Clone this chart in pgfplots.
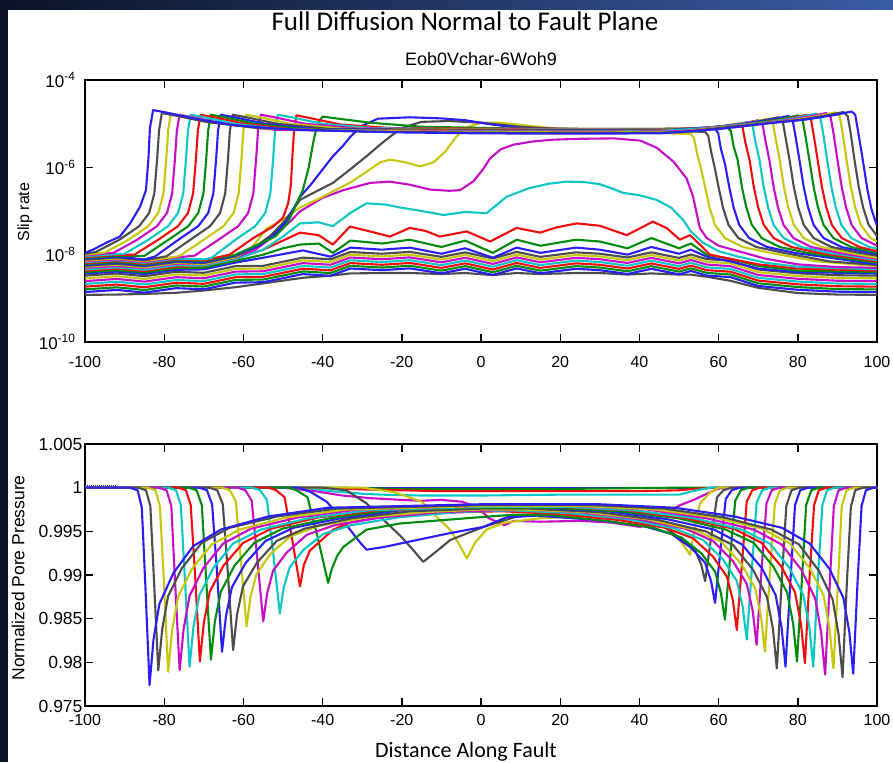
\documentclass[border=0pt]{standalone}
\usepackage{fontspec}
\setmainfont{Liberation Sans}
\newfontfamily\carlito{Carlito}
\usepackage{pgfplots}
\usepackage{pgfplotstable}
\pgfplotsset{compat=1.18}
\definecolor{mb}{rgb}{0.16,0.12,0.95}
\definecolor{mg}{rgb}{0,0.55,0.05}
\definecolor{mr}{rgb}{0.95,0.05,0.05}
\definecolor{mc}{rgb}{0.05,0.78,0.78}
\definecolor{mm}{rgb}{0.78,0.05,0.78}
\definecolor{my}{rgb}{0.78,0.78,0.05}
\definecolor{mk}{rgb}{0.3,0.3,0.3}
\definecolor{navy}{HTML}{0A1226}
\definecolor{topblue}{HTML}{3A5CA6}
\pgfplotstableread{
x k0 k1 k2 k3 k4 k5 k6 k7
-100 1.2e-9 1.39e-9 1.6e-9 1.85e-9 2.14e-9 2.48e-9 2.87e-9 3.31e-9
-92 1.22e-9 1.56e-9 1.79e-9 2.07e-9 2.4e-9 2.78e-9 3.21e-9 3.71e-9
-85 1.26e-9 1.35e-9 1.55e-9 1.79e-9 2.08e-9 2.41e-9 2.78e-9 3.21e-9
-77 1.34e-9 1.71e-9 1.97e-9 2.28e-9 2.63e-9 3.05e-9 3.53e-9 4.07e-9
-70 1.51e-9 1.61e-9 1.86e-9 2.15e-9 2.48e-9 2.88e-9 3.33e-9 3.84e-9
-62 1.8e-9 2.29e-9 2.64e-9 3.05e-9 3.53e-9 4.09e-9 4.74e-9 5.46e-9
-55 2.2e-9 2.34e-9 2.69e-9 3.11e-9 3.6e-9 4.17e-9 4.82e-9 5.56e-9
-45 2.95e-9 3.59e-9 4.13e-9 4.77e-9 5.52e-9 6.4e-9 7.4e-9 8.54e-9
-38 3.3e-9 3.29e-9 3.79e-9 4.38e-9 5.07e-9 5.88e-9 6.8e-9 7.84e-9
-33 3.72e-9 4.82e-9 5.55e-9 6.42e-9 7.43e-9 8.61e-9 9.96e-9 11.5e-9
-25 3.8e-9 4.41e-9 5.07e-9 5.86e-9 6.78e-9 7.86e-9 9.1e-9 10.5e-9
-18 3.8e-9 4.85e-9 5.58e-9 6.46e-9 7.47e-9 8.66e-9 10.0e-9 11.6e-9
-10 3.6e-9 3.74e-9 4.3e-9 4.98e-9 5.76e-9 6.67e-9 7.72e-9 8.9e-9
-4 3.8e-9 4.75e-9 5.47e-9 6.33e-9 7.32e-9 8.48e-9 9.82e-9 11.3e-9
3 3.4e-9 3.43e-9 3.95e-9 4.57e-9 5.29e-9 6.13e-9 7.09e-9 8.18e-9
9 3.8e-9 4.85e-9 5.58e-9 6.46e-9 7.47e-9 8.66e-9 10.0e-9 11.6e-9
15 3.6e-9 3.74e-9 4.3e-9 4.98e-9 5.76e-9 6.67e-9 7.72e-9 8.9e-9
24 3.8e-9 4.75e-9 5.47e-9 6.33e-9 7.32e-9 8.48e-9 9.82e-9 11.3e-9
30 3.8e-9 4.41e-9 5.07e-9 5.86e-9 6.78e-9 7.86e-9 9.1e-9 10.5e-9
37 3.5e-9 3.61e-9 4.16e-9 4.81e-9 5.56e-9 6.45e-9 7.46e-9 8.61e-9
43 3.72e-9 4.74e-9 5.46e-9 6.31e-9 7.3e-9 8.46e-9 9.79e-9 11.3e-9
50 3.5e-9 3.54e-9 4.08e-9 4.72e-9 5.46e-9 6.32e-9 7.32e-9 8.44e-9
53 3.48e-9 4.24e-9 4.88e-9 5.64e-9 6.53e-9 7.56e-9 8.75e-9 10.1e-9
57 3.12e-9 3.32e-9 3.82e-9 4.42e-9 5.11e-9 5.93e-9 6.86e-9 7.91e-9
63 2.52e-9 3.06e-9 3.52e-9 4.07e-9 4.71e-9 5.46e-9 6.31e-9 7.28e-9
70 1.74e-9 1.92e-9 2.21e-9 2.55e-9 2.95e-9 3.42e-9 3.96e-9 4.57e-9
80 1.32e-9 1.57e-9 1.81e-9 2.09e-9 2.42e-9 2.8e-9 3.24e-9 3.74e-9
90 1.22e-9 1.42e-9 1.63e-9 1.89e-9 2.18e-9 2.53e-9 2.93e-9 3.38e-9
100 1.2e-9 1.39e-9 1.6e-9 1.85e-9 2.14e-9 2.48e-9 2.87e-9 3.31e-9
}\tabI
\pgfplotsset{every axis plot/.append style={line width=2.1pt,line join=round}}
\begin{document}
\begin{tikzpicture}[x=1pt,y=1pt]
\useasboundingbox (0,0) rectangle (893,762);
\fill[white] (0,0) rectangle (893,762);
\fill[navy] (0,0) rectangle (8,762);
\shade[left color=navy,right color=topblue] (0,752) rectangle (893,762);
\node[font=\carlito\fontsize{27}{30}\selectfont,anchor=base] at (465,731) {Full Diffusion Normal to Fault Plane};
\node[font=\fontsize{18}{20}\selectfont,anchor=base] at (481,696) {Eob0Vchar-6Woh9};
\node[font=\fontsize{16}{18}\selectfont,rotate=90] at (25,550) {Slip rate};
\node[font=\fontsize{17.5}{19}\selectfont,rotate=90] at (18,184) {Normalized Pore Pressure};
\node[font=\carlito\fontsize{22}{24}\selectfont,anchor=base] at (466,4.5) {Distance Along Fault};
% ---------------- top axis
\begin{axis}[at={(85pt,420pt)},anchor=south west,scale only axis,width=792pt,height=262pt,
 ymode=log,xmin=-100,xmax=100,ymin=1e-10,ymax=1e-4,
 xtick={-100,-80,-60,-40,-20,0,20,40,60,80,100},
 xticklabels={-100,-80,-60,-40,-20,0,20,40,60,80,100},
 ytick={1e-10,1e-8,1e-6,1e-4},
 yticklabels={10\textsuperscript{-10},10\textsuperscript{-8},10\textsuperscript{-6},10\textsuperscript{-4}},
 yminorticks=false,
 tick align=inside,major tick length=8pt,
 axis line style={line width=1.4pt},tick style={line width=1.4pt,black},
 tick label style={font=\fontsize{16}{18}\selectfont},
 yticklabel style={font=\fontsize{17}{18}\selectfont,xshift=-6pt},
 xticklabel style={yshift=-11pt}]
\addplot[mk] table[x=x,y=k0]{\tabI};
\addplot[mb] table[x=x,y=k1]{\tabI};
\addplot[mg] table[x=x,y=k2]{\tabI};
\addplot[mr] table[x=x,y=k3]{\tabI};
\addplot[mc] table[x=x,y=k4]{\tabI};
\addplot[mm] table[x=x,y=k5]{\tabI};
\addplot[my] table[x=x,y=k6]{\tabI};
\addplot[mk] table[x=x,y=k7]{\tabI};
% P5 blue
\addplot[mb] coordinates {(-100,3.7e-9)(-92,4.1e-9)(-85,3.6e-9)(-77,4.5e-9)(-70,4.6e-9)(-62,6.6e-9)(-55,8.5e-9)(-45,1.25e-8)(-38,9e-9)(-33,1.45e-8)(-25,1.3e-8)(-18,1.45e-8)(-10,1.05e-8)(-4,1.4e-8)(3,8.5e-9)(9,1.45e-8)(15,1.1e-8)(24,1.45e-8)(30,1.3e-8)(37,1e-8)(43,1.5e-8)(50,1.05e-8)(53,1.3e-8)(57,9e-9)(63,7e-9)(70,4.8e-9)(80,4e-9)(100,3.7e-9)};
% P4 green
\addplot[mg] coordinates {(-100,4e-9)(-92,4.4e-9)(-85,3.9e-9)(-77,4.9e-9)(-70,5e-9)(-62,7.2e-9)(-55,1e-8)(-50,1.4e-8)(-45.7,1.7e-8)(-41,1.8e-8)(-37.4,1.1e-8)(-33,2.1e-8)(-25,1.8e-8)(-18,2.2e-8)(-10,1.5e-8)(-4,2.1e-8)(3,1.1e-8)(9,2.2e-8)(15,1.6e-8)(24,2.2e-8)(30,2e-8)(37,1.4e-8)(43,2.4e-8)(50,1.4e-8)(53,1.8e-8)(57,1e-8)(63,8e-9)(70,5.5e-9)(80,4.3e-9)(100,4e-9)};
% P3 red
\addplot[mr] coordinates {(-100,4.3e-9)(-92,4.8e-9)(-85,4.2e-9)(-77,5.3e-9)(-70,5.5e-9)(-62,8e-9)(-55,1.3e-8)(-50,2.1e-8)(-45.7,3.2e-8)(-41,2.8e-8)(-37.4,1.7e-8)(-33.1,4.4e-8)(-28,3.4e-8)(-23,2.6e-8)(-18,4.1e-8)(-14,3.5e-8)(-10.4,2.6e-8)(-3.6,3.4e-8)(2.3,2e-8)(9,4.1e-8)(14.9,3.2e-8)(19,4.2e-8)(24.2,5.2e-8)(30,4.6e-8)(36.8,2.8e-8)(43.4,5.7e-8)(47,4e-8)(50.2,2.2e-8)(52.8,2.8e-8)(55,1.8e-8)(57.8,1e-8)(63,8e-9)(70,6e-9)(80,4.8e-9)(100,4.3e-9)};
% P2 cyan
\addplot[mc] coordinates {(-100,4.6e-9)(-92,5.1e-9)(-85,4.5e-9)(-77,5.7e-9)(-70,5.6e-9)(-62,8e-9)(-55,1.3e-8)(-50,2.6e-8)(-45.7,5.2e-8)(-41,5.5e-8)(-37.4,4.5e-8)(-33,9e-8)(-28.9,1.5e-7)(-24,1.4e-7)(-20.4,1.2e-7)(-15,1e-7)(-9.5,8.1e-8)(-4,9.5e-8)(1.4,8.9e-8)(6.4,2.1e-7)(12,3.3e-7)(17,4.2e-7)(21.6,4.7e-7)(26,4.6e-7)(30,4.1e-7)(33,3.3e-7)(35.9,2.6e-7)(40,2.3e-7)(44.3,1.8e-7)(48,1.2e-7)(51,6.3e-8)(53,3.4e-8)(56,1.9e-8)(60,1.2e-8)(65,9e-9)(72,6.5e-9)(80,5.3e-9)(100,4.6e-9)};
% P1 magenta
\addplot[mm] coordinates {(-100,5e-9)(-92,5.5e-9)(-85,4.9e-9)(-77,6.2e-9)(-70,6e-9)(-62,8.5e-9)(-57,1.3e-8)(-52,2.8e-8)(-48,6e-8)(-45.7,9.8e-8)(-40,2e-7)(-34.8,3e-7)(-28,4.4e-7)(-23,4.7e-7)(-18,4e-7)(-12.9,3.1e-7)(-8,2.9e-7)(-5.3,3e-7)(-1.9,4.8e-7)(0.5,9e-7)(2.3,1.6e-6)(5,2.6e-6)(8.2,3.3e-6)(13,3.9e-6)(18.3,4.3e-6)(25,4.5e-6)(33.5,4.6e-6)(40.2,4.1e-6)(44.4,2.8e-6)(48.6,1.35e-6)(51.9,5.6e-7)(53.5,2.2e-7)(55.3,4e-8)(57,2.4e-8)(60,1.6e-8)(65,1.2e-8)(72,8e-9)(80,6e-9)(90,5.2e-9)(100,5e-9)};
% r1 yellow
\addplot[my] coordinates {(-100,5.3e-9)(-92,5.9e-9)(-85,5.1e-9)(-77,6.5e-9)(-70,6.1e-9)(-62,8.7e-9)(-58,1.4e-8)(-54.1,4e-8)(-50,6.3e-8)(-45.7,1.2e-7)(-41,1.9e-7)(-37.4,2.8e-7)(-33,4.5e-7)(-28.9,7.9e-7)(-25.5,1.3e-6)(-23,1.5e-6)(-19,1.3e-6)(-15.4,1.05e-6)(-12,1.3e-6)(-9,2.3e-6)(-6.5,4.7e-6)(-4,8e-6)(0,1.05e-5)(5,1.05e-5)(12,9e-6)(20,7.5e-6)(30,6.8e-6)(45,6.1e-6)(53,5.8e-6)(53.8,4.6e-6)(54.6,2e-6)(55.6,9e-7)(56.6,3.5e-7)(57.7,1.2e-7)(59.1,4.8e-8)(61.6,2.4e-8)(66.1,1.5e-8)(73,1.1e-8)(85,7e-9)(100,5.5e-9)};
% r2 gray
\addplot[mk] coordinates {(-100,5.55e-9)(-92,6.2e-9)(-85,5.4e-9)(-77,6.8e-9)(-70,6.4e-9)(-62,9.2e-9)(-57,1.5e-8)(-53,2.8e-8)(-49.5,6e-8)(-45.7,1.8e-7)(-41,3e-7)(-37.4,4.4e-7)(-33,9e-7)(-28.9,1.8e-6)(-25.5,3.3e-6)(-23,5e-6)(-20,8e-6)(-15,1.1e-5)(-8,1.15e-5)(0,1.05e-5)(10,8.5e-6)(20,7.4e-6)(40,7e-6)(56.6,6.5e-6)(57.4,5.2e-6)(58.1,2.3e-6)(59,1e-6)(60,3.5e-7)(61.1,1.2e-7)(62.5,4.8e-8)(65,2.4e-8)(69.5,1.5e-8)(76.5,1.1e-8)(88,7e-9)(100,5.8e-9)};
% r3 blue
\addplot[mb] coordinates {(-100,5.8e-9)(-92,6.5e-9)(-85,5.6e-9)(-77,7.1e-9)(-70,6.7e-9)(-62,9.6e-9)(-56,1.6e-8)(-52,3e-8)(-49,6e-8)(-45.7,2.1e-7)(-43,4e-7)(-40.7,7.4e-7)(-37.4,1.8e-6)(-35,3e-6)(-33,5e-6)(-30,9e-6)(-26,1.3e-5)(-18,1.4e-5)(-10,1.32e-5)(-4,1.2e-5)(3,9.5e-6)(10,8e-6)(25,7.4e-6)(40,7.3e-6)(50,7.3e-6)(59.2,7.5e-6)(59.9,6e-6)(60.6,2.6e-6)(61.6,1.2e-6)(62.7,3.5e-7)(63.8,1.2e-7)(65.2,4.8e-8)(67.7,2.4e-8)(72.2,1.5e-8)(79.2,1.1e-8)(100,6e-9)};
% r4 green
\addplot[mg] coordinates {(-100,6.1e-9)(-92,6.8e-9)(-85,5.9e-9)(-77,7.5e-9)(-70,7.1e-9)(-62,1e-8)(-57,1.6e-8)(-52,2.6e-8)(-49,5e-8)(-47,1.2e-7)(-45,3e-7)(-43.5,1e-6)(-42.3,4e-6)(-41.3,1e-5)(-40,1.45e-5)(-36,1.3e-5)(-28,1.05e-5)(-15,8.5e-6)(10,7.7e-6)(30,7.6e-6)(45,7.6e-6)(55,7.8e-6)(62,8.5e-6)(63.1,6.8e-6)(63.8,3e-6)(64.8,1.5e-6)(65.9,3.5e-7)(67,1.2e-7)(68.4,4.8e-8)(70.9,2.4e-8)(75.4,1.5e-8)(82.4,1.1e-8)(100,6.5e-9)};
% r5 red
\addplot[mr] coordinates {(-100,6.4e-9)(-92,7.2e-9)(-85,6.2e-9)(-77,7.9e-9)(-70,7.4e-9)(-63.5,1e-8)(-57.5,2.4e-8)(-52.5,4.4e-8)(-50,7e-8)(-48.7,1.5e-7)(-48,4e-7)(-47.6,2e-6)(-47.2,7e-6)(-46.6,1.55e-5)(-43.5,1.36e-5)(-35.5,9.6e-6)(-22.5,7.9e-6)(0,7.7e-6)(30,7.6e-6)(45.4,7.6e-6)(53.4,7.8e-6)(60.4,8.6e-6)(65,1e-5)(66.1,8e-6)(66.8,3.5e-6)(67.8,1.5e-6)(68.9,3.5e-7)(70,1.2e-7)(71.4,4.8e-8)(73.9,2.4e-8)(78.4,1.5e-8)(85.4,1.1e-8)(100,7e-9)};
% r6 cyan
\addplot[mc] coordinates {(-100,6.7e-9)(-92,7.5e-9)(-85,6.5e-9)(-77,8.2e-9)(-70,7.8e-9)(-68,8.5e-9)(-62,2.2e-8)(-57,4.5e-8)(-54.5,9e-8)(-53.2,2.5e-7)(-52.5,1.5e-6)(-52,7e-6)(-51.3,1.6e-5)(-48,1.41e-5)(-40,9.9e-6)(-27,7.9e-6)(-10,7.6e-6)(20,7.5e-6)(47.9,7.5e-6)(55.9,7.6e-6)(62.9,9e-6)(67.5,1.1e-5)(68.6,8.8e-6)(69.3,3.9e-6)(70.3,1.5e-6)(71.4,3.5e-7)(72.5,1.2e-7)(73.9,4.8e-8)(76.4,2.4e-8)(80.9,1.5e-8)(87.9,1.1e-8)(100,7.5e-9)};
% r7 magenta
\addplot[mm] coordinates {(-100,7e-9)(-92,7.8e-9)(-85,6.8e-9)(-77,8.6e-9)(-72.3,9.5e-9)(-66.3,2.2e-8)(-61.3,4.5e-8)(-58.8,9e-8)(-57.5,2.5e-7)(-56.8,1.5e-6)(-56.3,7e-6)(-55.6,1.6e-5)(-52.3,1.41e-5)(-44.3,9.9e-6)(-31.3,7.8e-6)(-10,7.5e-6)(20,7.4e-6)(50.4,7.4e-6)(58.4,7.9e-6)(65.4,9.8e-6)(70,1.2e-5)(71.1,9.6e-6)(71.8,4.2e-6)(72.8,1.5e-6)(73.9,3.5e-7)(75,1.2e-7)(76.4,4.8e-8)(78.9,2.4e-8)(83.4,1.5e-8)(90.4,1.1e-8)(100,8e-9)};
% r8 yellow
\addplot[my] coordinates {(-100,7.3e-9)(-92,8.2e-9)(-85,7.1e-9)(-77,9e-9)(-76,9.5e-9)(-70,2.2e-8)(-65,4.5e-8)(-62.5,9e-8)(-61.2,2.5e-7)(-60.5,1.5e-6)(-60,7e-6)(-59.3,1.6e-5)(-56,1.41e-5)(-48,9.9e-6)(-35,7.7e-6)(-20,7.5e-6)(10,7.3e-6)(43,7.3e-6)(53,7.4e-6)(61,8.5e-6)(68,1.07e-5)(72.6,1.3e-5)(73.7,1.04e-5)(74.4,4.6e-6)(75.4,1.5e-6)(76.5,3.5e-7)(77.6,1.2e-7)(79,4.8e-8)(81.5,2.4e-8)(86,1.5e-8)(93,1.1e-8)(100,8.5e-9)};
% r9 gray
\addplot[mk] coordinates {(-100,7.65e-9)(-92,8.6e-9)(-85,7.4e-9)(-79.4,9.2e-9)(-73.4,2.2e-8)(-68.4,4.5e-8)(-65.9,9e-8)(-64.6,2.5e-7)(-63.9,1.5e-6)(-63.4,7e-6)(-62.7,1.6e-5)(-59.4,1.41e-5)(-51.4,9.9e-6)(-38.4,7.6e-6)(-20,7.4e-6)(10,7.2e-6)(30,7.2e-6)(45.5,7.3e-6)(55.5,7.7e-6)(63.5,9.1e-6)(70.5,1.15e-5)(75.1,1.4e-5)(76.2,1.12e-5)(76.9,4.9e-6)(77.9,1.5e-6)(79,3.5e-7)(80.1,1.2e-7)(81.5,4.8e-8)(84,2.4e-8)(88.5,1.5e-8)(95.5,1.1e-8)(100,9.5e-9)};
% r10 blue
\addplot[mb] coordinates {(-100,8e-9)(-92,9e-9)(-85,7.8e-9)(-82.4,9e-9)(-76.4,2.2e-8)(-71.4,4.5e-8)(-68.9,9e-8)(-67.6,2.5e-7)(-66.9,1.5e-6)(-66.4,7e-6)(-65.7,1.6e-5)(-62.4,1.41e-5)(-54.4,9.9e-6)(-41.4,7.5e-6)(-20,7.2e-6)(10,7e-6)(30,7e-6)(48,7.1e-6)(58,8.3e-6)(66,9.8e-6)(73,1.23e-5)(77.6,1.5e-5)(78.7,1.2e-5)(79.4,5.3e-6)(80.4,1.5e-6)(81.5,3.5e-7)(82.6,1.2e-7)(84,4.8e-8)(86.5,2.4e-8)(91,1.5e-8)(98,1.1e-8)(100,1.05e-8)};
% r11 green
\addplot[mg] coordinates {(-100,8.4e-9)(-92,9.4e-9)(-85,9.4e-9)(-78.9,2.2e-8)(-73.9,4.5e-8)(-71.4,9e-8)(-70.1,2.5e-7)(-69.4,1.5e-6)(-68.9,7e-6)(-68.2,1.6e-5)(-64.9,1.41e-5)(-56.9,9.9e-6)(-43.9,7.4e-6)(-30,7.2e-6)(0,7e-6)(30,6.9e-6)(50.5,7.1e-6)(60.5,8.5e-6)(68.5,1.01e-5)(75.5,1.27e-5)(80.1,1.55e-5)(81.2,1.24e-5)(81.9,5.4e-6)(82.9,1.5e-6)(84,3.5e-7)(85.1,1.2e-7)(86.5,4.8e-8)(89,2.4e-8)(93.5,1.5e-8)(100,1.1e-8)};
% r12 red
\addplot[mr] coordinates {(-100,8.8e-9)(-92,9.9e-9)(-87.5,1e-8)(-81.5,2.2e-8)(-76.5,4.5e-8)(-74,9e-8)(-72.7,2.5e-7)(-72,1.5e-6)(-71.5,7e-6)(-70.8,1.6e-5)(-67.5,1.41e-5)(-59.5,9.9e-6)(-46.5,7.2e-6)(-30,7.1e-6)(0,6.9e-6)(30,6.8e-6)(42,6.9e-6)(52.6,7.2e-6)(62.6,8.8e-6)(70.6,1.04e-5)(77.6,1.31e-5)(82.2,1.6e-5)(83.3,1.28e-5)(84,5.6e-6)(85,1.5e-6)(86.1,3.5e-7)(87.2,1.2e-7)(88.6,4.8e-8)(91.1,2.4e-8)(95.6,1.5e-8)(100,1.2e-8)};
% r13 cyan
\addplot[mc] coordinates {(-100,9.2e-9)(-92,1.03e-8)(-90,1.05e-8)(-84,2.2e-8)(-79,4.5e-8)(-76.5,9e-8)(-75.2,2.5e-7)(-74.5,1.5e-6)(-74,7e-6)(-73.3,1.6e-5)(-70,1.41e-5)(-62,9.9e-6)(-49,7.2e-6)(-30,7e-6)(0,6.7e-6)(30,6.6e-6)(45,6.8e-6)(55,7.7e-6)(65,9.4e-6)(73,1.1e-5)(80,1.39e-5)(84.6,1.7e-5)(85.7,1.36e-5)(86.4,6e-6)(87.4,1.5e-6)(88.5,3.5e-7)(89.6,1.2e-7)(91,4.8e-8)(93.5,2.4e-8)(98,1.5e-8)(100,1.4e-8)};
% r14 magenta
\addplot[mm] coordinates {(-100,9.6e-9)(-92.8,1.1e-8)(-86.8,2.2e-8)(-81.8,4.5e-8)(-79.3,9e-8)(-78,2.5e-7)(-77.3,1.5e-6)(-76.8,7e-6)(-76.1,1.6e-5)(-72.8,1.41e-5)(-64.8,9.9e-6)(-51.8,7.2e-6)(-30,6.9e-6)(0,6.6e-6)(30,6.5e-6)(50,6.7e-6)(57.6,7.9e-6)(67.6,9.6e-6)(75.6,1.14e-5)(82.6,1.44e-5)(87.2,1.75e-5)(88.3,1.4e-5)(89,6.1e-6)(90,1.5e-6)(91.1,3.5e-7)(92.2,1.2e-7)(93.6,4.8e-8)(96.1,2.4e-8)(100.6,1.5e-8)};
% r15 yellow
\addplot[my] coordinates {(-100,1e-8)(-95,1.12e-8)(-89,2.2e-8)(-84,4.5e-8)(-81.5,9e-8)(-80.2,2.5e-7)(-79.5,1.5e-6)(-79,7e-6)(-78.3,1.7e-5)(-75,1.5e-5)(-67,1.05e-5)(-54,7.7e-6)(-30,6.8e-6)(0,6.4e-6)(30,6.3e-6)(50,6.5e-6)(59.9,8.1e-6)(69.9,9.9e-6)(77.9,1.17e-5)(84.9,1.48e-5)(89.5,1.8e-5)(90.6,1.44e-5)(91.3,6.3e-6)(92.3,1.5e-6)(93.4,3.5e-7)(94.5,1.2e-7)(95.9,4.8e-8)(98.4,2.4e-8)(102.9,1.5e-8)};
% r16 gray
\addplot[mk] coordinates {(-100,1.05e-8)(-97.3,1.15e-8)(-91.3,2.2e-8)(-86.3,4.5e-8)(-83.8,9e-8)(-82.5,2.5e-7)(-81.8,1.5e-6)(-81.3,7e-6)(-80.6,1.75e-5)(-77.3,1.54e-5)(-69.3,1.09e-5)(-56.3,7.9e-6)(-30,6.6e-6)(0,6.2e-6)(30,6.1e-6)(50,6.3e-6)(61.9,8.3e-6)(71.9,1.02e-5)(79.9,1.2e-5)(86.9,1.52e-5)(91.5,1.85e-5)(92.6,1.48e-5)(93.3,6.5e-6)(94.3,1.5e-6)(95.4,3.5e-7)(96.5,1.2e-7)(97.9,4.8e-8)(100.4,2.4e-8)};
% r17 blue
\addplot[mb] coordinates {(-100,1.1e-8)(-98,1.3e-8)(-94.5,1.9e-8)(-91.2,2.6e-8)(-88.6,5.2e-8)(-86.1,1.25e-7)(-84.6,3e-7)(-84,1.5e-6)(-83.6,8e-6)(-82.8,2.05e-5)(-79.5,1.8e-5)(-71.5,1.27e-5)(-62.6,9.3e-6)(-54,8e-6)(-46,7.2e-6)(-20,6.3e-6)(0,6e-6)(20,5.9e-6)(45,6e-6)(60,7.5e-6)(74,1.05e-5)(82,1.24e-5)(89,1.56e-5)(93.6,1.9e-5)(94.5,1.6e-5)(95.3,6e-6)(96.4,1.5e-6)(97.6,3e-7)(98.6,1.1e-7)(100,4.5e-8)};
\end{axis}
% ---------------- bottom axis
\begin{axis}[at={(85pt,56pt)},anchor=south west,scale only axis,width=792pt,height=262pt,
 xmin=-100,xmax=100,ymin=0.975,ymax=1.005,
 xtick={-100,-80,-60,-40,-20,0,20,40,60,80,100},
 xticklabels={-100,-80,-60,-40,-20,0,20,40,60,80,100},
 ytick={0.975,0.98,0.985,0.99,0.995,1,1.005},
 yticklabels={0.975,0.98,0.985,0.99,0.995,1,1.005},
 tick align=inside,major tick length=8pt,
 axis line style={line width=1.4pt},tick style={line width=1.4pt,black},
 tick label style={font=\fontsize{16}{18}\selectfont},
 yticklabel style={font=\fontsize{17.5}{18}\selectfont,xshift=1pt},
 xticklabel style={yshift=-5pt}]
\addplot[mk] coordinates {(-100,1)(100,1)};
\addplot[mb] coordinates {(-100,1)(100,1)};
\addplot[mg] coordinates {(-100,1)(-35,1)(-20,0.99985)(20,0.99985)(50,1)(100,1)};
\addplot[mr] coordinates {(-100,1)(-40,1)(-30,0.9998)(-10,0.9996)(10,0.9996)(40,0.9996)(50,0.9997)(55,0.9999)(60,1)(100,1)};
\addplot[mc] coordinates {(-100,1)(-45,1)(-38,0.9996)(-30,0.9993)(-25,0.9992)(-15,0.9991)(0,0.9991)(20,0.9992)(40,0.9992)(50,0.9992)(54.4,0.9997)(58,1)(100,1)};
\addplot[mm] coordinates {(-100,1)(-50,1)(-42,0.9996)(-35,0.9991)(-28,0.9988)(-20,0.9986)(-15,0.9985)(-10,0.9986)(-5,0.9984)(-1,0.9978)(2,0.9965)(5.9,0.9957)(8.3,0.9962)(15,0.9961)(25,0.9962)(33,0.996)(40.2,0.9955)(43.5,0.9959)(47,0.9972)(50.3,0.998)(53.7,0.9986)(57,0.9993)(60,0.9999)(63,1)(100,1)};
\addplot[my] coordinates {(-100,1)(-30,1)(-22,0.9995)(-15,0.9984)(-10.4,0.9963)(-7.8,0.9952)(-5.5,0.9935)(-3.6,0.9919)(-1.5,0.9937)(1.4,0.9952)(6,0.996)(15,0.9965)(25,0.9967)(36,0.9967)(44.3,0.9965)(48.5,0.9948)(51,0.9935)(52.8,0.9923)(54,0.9955)(55.3,0.9982)(57.8,0.9994)(60,1)(100,1)};
\addplot[mk] coordinates {(-100,1)(-40,1)(-34,0.9997)(-28.9,0.9982)(-24.6,0.9963)(-20.4,0.9945)(-17,0.9928)(-14.6,0.9915)(-11,0.9928)(-7.8,0.994)(0.6,0.9955)(9,0.9967)(20,0.997)(26.6,0.9968)(38.6,0.9963)(45.6,0.9957)(50.6,0.9941)(54.1,0.9928)(55.6,0.9912)(56.6,0.9893)(58.2,0.9946)(59.6,0.9989)(61.2,0.9997)(63.2,1)(100,1)};
\addplot[mb] coordinates {(-100,1)(-46,1)(-43,0.9995)(-39,0.9984)(-35.6,0.9967)(-33.1,0.9952)(-30.5,0.9937)(-28.9,0.9929)(-24.6,0.9932)(-20.4,0.9936)(-7.8,0.9948)(0.6,0.9955)(6.4,0.9966)(14.1,0.9968)(29.1,0.9963)(41.1,0.9956)(48.1,0.9947)(53.1,0.9931)(56.6,0.9914)(58.1,0.9893)(59.1,0.9868)(60.6,0.9934)(61.8,0.9987)(63.3,0.9997)(65.3,1)(100,1)};
\addplot[mg] coordinates {(-100,1)(-48.6,1)(-46.6,0.9997)(-43.8,0.9989)(-41.4,0.9946)(-38.6,0.9891)(-37.6,0.9908)(-36.3,0.9922)(-34.8,0.9932)(-28.9,0.9952)(-20.4,0.9959)(-3.6,0.9965)(8,0.9969)(16.6,0.9969)(31.6,0.9962)(43.6,0.9954)(50.6,0.9943)(55.6,0.9925)(59.1,0.9904)(60.6,0.9879)(61.6,0.9849)(63,0.9925)(64.2,0.9985)(65.6,0.9997)(67.6,1)(100,1)};
\addplot[mr] coordinates {(-100,1)(-53.7,1)(-51.7,0.9997)(-49.6,0.9989)(-47.8,0.9944)(-45.7,0.9887)(-44.7,0.9912)(-43.2,0.9928)(-41.5,0.9935)(-37.3,0.9952)(-33.1,0.996)(-24.6,0.9967)(-12,0.9971)(5,0.9973)(19.6,0.997)(34.6,0.9963)(46.6,0.9954)(53.6,0.9942)(58.6,0.9921)(62.1,0.9898)(63.6,0.9871)(64.6,0.9837)(66,0.9919)(67.1,0.9984)(68.5,0.9997)(70.5,1)(100,1)};
\addplot[mc] coordinates {(-100,1)(-57.8,1)(-55.8,0.9997)(-54.05,0.9986)(-52.55,0.9928)(-50.8,0.9856)(-49.8,0.9886)(-48.3,0.9909)(-44.8,0.9929)(-39.8,0.9947)(-32.8,0.9957)(-20.8,0.9966)(-5.8,0.9972)(8,0.9974)(22.1,0.9971)(37.1,0.9964)(49.1,0.9953)(56.1,0.994)(61.1,0.9918)(64.6,0.9893)(66.1,0.9863)(67.1,0.9826)(68.5,0.9913)(69.6,0.9983)(71,0.9997)(73,1)(100,1)};
\addplot[mm] coordinates {(-100,1)(-61.5,1)(-59.5,0.9997)(-57.9,0.9985)(-56.6,0.9924)(-55,0.9847)(-54,0.9879)(-52.5,0.9905)(-49,0.9926)(-44,0.9946)(-37,0.9957)(-25,0.9966)(-10,0.9972)(10,0.9975)(24.6,0.9972)(39.6,0.9964)(51.6,0.9953)(58.6,0.9939)(63.6,0.9916)(67.1,0.989)(68.6,0.9859)(69.6,0.982)(70.9,0.991)(72.1,0.9982)(73.4,0.9997)(75.4,1)(100,1)};
\addplot[my] coordinates {(-100,1)(-65.4,1)(-63.4,0.9997)(-61.9,0.9984)(-60.7,0.992)(-59.2,0.9841)(-58.2,0.9875)(-56.7,0.9901)(-53.2,0.9924)(-48.2,0.9944)(-41.2,0.9956)(-29.2,0.9966)(-14.2,0.9972)(0,0.9975)(10,0.9975)(26.7,0.9972)(41.7,0.9964)(53.7,0.9952)(60.7,0.9938)(65.7,0.9913)(69.2,0.9885)(70.7,0.9853)(71.7,0.9812)(73,0.9906)(74.2,0.9981)(75.5,0.9997)(77.5,1)(100,1)};
\addplot[mk] coordinates {(-100,1)(-68.6,1)(-66.6,0.9997)(-65.2,0.9981)(-64,0.9907)(-62.6,0.9814)(-61.6,0.9855)(-60.1,0.9887)(-56.6,0.9914)(-51.6,0.9939)(-44.6,0.9953)(-32.6,0.9965)(-17.6,0.9973)(0,0.9976)(12,0.9976)(29.7,0.9972)(44.7,0.9963)(56.7,0.995)(63.7,0.9934)(68.7,0.9906)(72.2,0.9875)(73.7,0.9839)(74.7,0.9793)(76,0.9897)(77.1,0.9979)(78.4,0.9997)(80.4,1)(100,1)};
\addplot[mb] coordinates {(-100,1)(-71.2,1)(-69.2,0.9997)(-67.9,0.9981)(-66.7,0.9906)(-65.4,0.9812)(-64.4,0.9853)(-62.9,0.9886)(-59.4,0.9914)(-54.4,0.9939)(-47.4,0.9954)(-35.4,0.9965)(-20.4,0.9974)(0,0.9977)(15,0.9977)(31.9,0.9973)(46.9,0.9964)(58.9,0.9952)(65.9,0.9935)(70.9,0.9908)(74.4,0.9877)(75.9,0.984)(76.9,0.9795)(78.2,0.9898)(79.3,0.998)(80.6,0.9997)(82.6,1)(100,1)};
\addplot[mg] coordinates {(-100,1)(-73.8,1)(-71.8,0.9997)(-70.5,0.998)(-69.5,0.9902)(-68.2,0.9803)(-67.2,0.9847)(-65.7,0.9881)(-62.2,0.9911)(-57.2,0.9937)(-50.2,0.9953)(-38.2,0.9965)(-23.2,0.9974)(0,0.9977)(18,0.9977)(34.8,0.9973)(49.8,0.9965)(61.8,0.9952)(68.8,0.9937)(73.8,0.991)(77.3,0.988)(78.8,0.9845)(79.8,0.9801)(81.1,0.99)(82.1,0.998)(83.4,0.9997)(85.4,1)(100,1)};
\addplot[mr] coordinates {(-100,1)(-76.5,1)(-74.5,0.9997)(-73.3,0.998)(-72.2,0.99)(-71,0.9801)(-70,0.9845)(-68.5,0.9881)(-65,0.9911)(-60,0.9937)(-53,0.9953)(-41,0.9966)(-26,0.9974)(0,0.9978)(20,0.9978)(36.8,0.9974)(51.8,0.9965)(63.8,0.9953)(70.8,0.9937)(75.8,0.991)(79.3,0.988)(80.8,0.9844)(81.8,0.9799)(83,0.99)(84.1,0.998)(85.3,0.9997)(87.3,1)(100,1)};
\addplot[mc] coordinates {(-100,1)(-79,1)(-77,0.9997)(-75.8,0.998)(-74.8,0.9898)(-73.6,0.9795)(-72.6,0.9841)(-71.1,0.9877)(-67.6,0.9908)(-62.6,0.9936)(-55.6,0.9952)(-43.6,0.9965)(-28.6,0.9974)(0,0.9978)(22,0.9978)(38.9,0.9974)(53.9,0.9965)(65.9,0.9952)(72.9,0.9936)(77.9,0.9908)(81.4,0.9877)(82.9,0.9841)(83.9,0.9795)(85.1,0.9898)(86.2,0.998)(87.4,0.9997)(89.4,1)(100,1)};
\addplot[mm] coordinates {(-100,1)(-81.4,1)(-79.4,0.9997)(-78.2,0.9979)(-77.3,0.9896)(-76.1,0.9791)(-75.1,0.9838)(-73.6,0.9876)(-70.1,0.9908)(-65.1,0.9936)(-58.1,0.9953)(-46.1,0.9966)(-31.1,0.9975)(0,0.9979)(24,0.9979)(41.9,0.9975)(56.9,0.9965)(68.9,0.9952)(75.9,0.9935)(80.9,0.9906)(84.4,0.9873)(85.9,0.9834)(86.9,0.9786)(88.1,0.9893)(89.1,0.9979)(90.3,0.9997)(92.3,1)(100,1)};
\addplot[my] coordinates {(-100,1)(-84.2,1)(-82.2,0.9997)(-81.1,0.9979)(-80.1,0.9895)(-79,0.9789)(-78,0.9837)(-76.5,0.9875)(-73,0.9907)(-68,0.9935)(-61,0.9952)(-49,0.9966)(-34,0.9975)(0,0.9979)(26,0.9979)(44,0.9975)(59,0.9966)(71,0.9953)(78,0.9936)(83,0.9908)(86.5,0.9877)(88,0.9839)(89,0.9793)(90.2,0.9896)(91.1,0.9979)(92.3,0.9997)(94.3,1)(100,1)};
\addplot[mk] coordinates {(-100,1)(-86.6,1)(-84.6,0.9997)(-83.5,0.9979)(-82.6,0.9896)(-81.5,0.9791)(-80.5,0.9838)(-79,0.9876)(-75.5,0.9908)(-70.5,0.9937)(-63.5,0.9954)(-51.5,0.9967)(-36.5,0.9976)(0,0.998)(28,0.998)(46.3,0.9976)(61.3,0.9966)(73.3,0.9952)(80.3,0.9935)(85.3,0.9905)(88.8,0.9872)(90.3,0.9832)(91.3,0.9783)(92.4,0.9892)(93.4,0.9978)(94.5,0.9997)(96.5,1)(100,1)};
\addplot[mb] coordinates {(-100,1)(-88.7,1)(-86.7,0.9997)(-85.65,0.9977)(-84.75,0.9887)(-83.7,0.9774)(-82.7,0.9826)(-81.2,0.9867)(-77.7,0.9902)(-72.7,0.9933)(-65.7,0.9952)(-53.7,0.9967)(-38.7,0.9977)(0,0.9981)(30,0.9981)(49,0.9977)(64,0.9967)(76,0.9954)(83,0.9936)(88,0.9907)(91.5,0.9874)(93,0.9835)(94,0.9787)(95.1,0.9893)(96.1,0.9979)(97.2,0.9997)(99.2,1)(100,1)};
\addplot[mb,line width=1pt,densely dotted] coordinates {(-100,1.0003)(-92,1.0003)};
\end{axis}
\end{tikzpicture}
\end{document}
